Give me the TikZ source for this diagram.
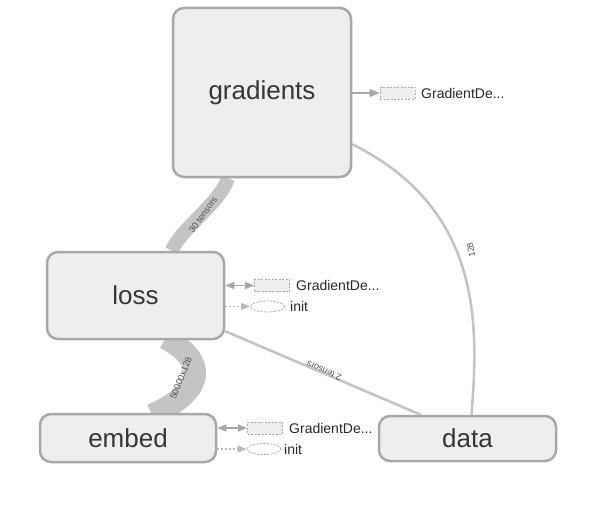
\documentclass[tikz,border=0pt]{standalone}
\usepackage{fontspec}
\setmainfont{Liberation Sans}
\usetikzlibrary{arrows.meta,calc,shapes.geometric,backgrounds}
\definecolor{boxfill}{HTML}{EEEEEE}
\definecolor{boxline}{HTML}{A8A8A8}
\definecolor{edgegray}{HTML}{C4C4C4}
\definecolor{labelgray}{HTML}{505050}
\definecolor{textgray}{HTML}{363636}
\begin{document}
\begin{tikzpicture}[x=1pt,y=-1pt,
    thinedge/.style={draw=edgegray,line width=2.6pt},
    bandedge/.style={draw=edgegray},
    edgelabel/.style={text=labelgray,font=\fontsize{9}{10}\selectfont,inner sep=0pt},
    auxrect/.style={rectangle,draw=boxline,fill=boxfill,dashed,line width=0.8pt,
      dash pattern=on 2pt off 1.5pt,minimum width=35pt,minimum height=12pt,inner sep=0pt},
    auxell/.style={ellipse,draw=boxline,dashed,line width=0.8pt,
      dash pattern=on 2pt off 1.5pt,minimum width=34pt,minimum height=11pt,inner sep=0pt},
    auxlabel/.style={anchor=west,font=\fontsize{14}{16}\selectfont,text=black!85,inner sep=0pt},
    tipone/.style={draw=boxline,line width=1.6pt,-{Triangle[length=10pt,width=8pt]}},
    tiptwo/.style={draw=boxline,line width=1.6pt,{Triangle[length=9pt,width=7pt]}-{Triangle[length=9pt,width=7pt]}},
    tipdot/.style={draw=boxline!80,line width=1.4pt,dash pattern=on 2pt off 2pt,-{Triangle[length=9pt,width=7pt]}}]

  \useasboundingbox (0,0) rectangle (594,508);

  % operation boxes
  \begin{scope}[every node/.style={rectangle,rounded corners=11pt,draw=boxline,fill=boxfill,
      line width=2.5pt,text=textgray,font=\fontsize{26}{30}\selectfont}]
    \node[minimum width=178pt,minimum height=169pt] (gradients) at (262,92.5) {gradients};
    \node[minimum width=177pt,minimum height=87pt]  (loss)      at (135.5,295.5) {loss};
    \node[minimum width=176pt,minimum height=48pt]  (embed)     at (128,438) {embed};
    \node[minimum width=177pt,minimum height=45pt]  (data)      at (467.5,438.5) {data};
  \end{scope}

  % auxiliary nodes
  \node[auxrect] (gaux)  at (397.5,93) {};
  \node[auxrect] (laux)  at (272,285.5) {};
  \node[auxell]  (linit) at (267.5,306.5) {};
  \node[auxrect] (eaux)  at (265,428) {};
  \node[auxell]  (einit) at (264,449) {};

  \node[auxlabel] (gauxtext)  at (421,93) {GradientDe...};
  \node[auxlabel] (lauxtext)  at (296,285.5) {GradientDe...};
  \node[auxlabel] (linittext) at (290,306.5) {init};
  \node[auxlabel] (eauxtext)  at (289,428) {GradientDe...};
  \node[auxlabel] (einittext) at (284,449) {init};

  % data flow edges
  \begin{scope}[on background layer]
    \path[bandedge,line width=14pt] ($(loss.north)+(36,0)$)
      .. controls +(12,-25) and +(-8,25) .. ($(gradients.south)+(-34,0)$);
    \path[bandedge,line width=22pt] ($(embed.north)+(24,2)$)
      .. controls (208,390) and (206,360) .. ($(loss.south)+(30,-2)$);
    \path[thinedge] ($(data.north west)+(43,0)$) -- ($(loss.south east)+(0,-9)$);
    \path[thinedge] ($(data.north)+(4,0)$)
      .. controls (478,330) and (485,210) .. ($(gradients.south east)+(0,-34)$);
  \end{scope}

  \node[edgelabel,rotate=55]  (lbltens) at (203,215) {30 tensors};
  \node[edgelabel,rotate=68]  (lblemb)  at (181,378) {50000x128};
  \node[edgelabel,rotate=156] (lbltwo)  at (324,371) {2 tensors};
  \node[edgelabel,rotate=100] (lbldata) at (471,250) {128};

  % control edges
  \path[tipone] (gradients.east |- gaux.west) -- (gaux.west);
  \path[tiptwo] (loss.east |- laux.west) -- (laux.west);
  \path[tipdot] (loss.east |- linit.west) -- (linit.west);
  \path[tiptwo] (embed.east |- eaux.west) -- (eaux.west);
  \path[tipdot] (embed.east |- einit.west) -- (einit.west);

\end{tikzpicture}
\end{document}
